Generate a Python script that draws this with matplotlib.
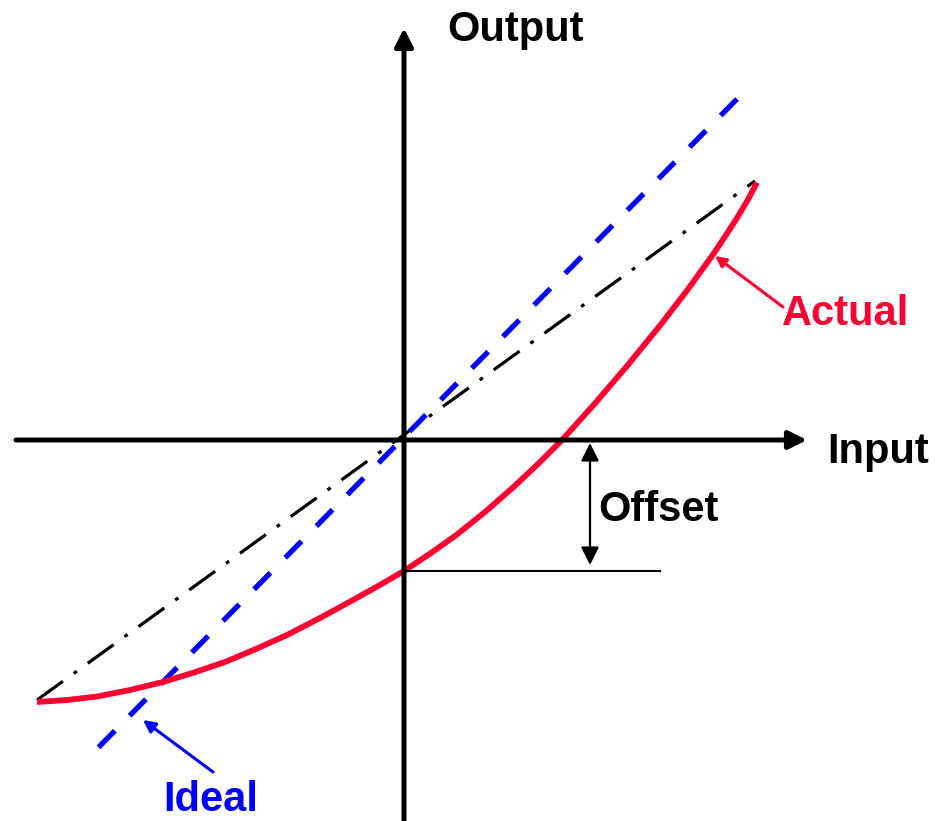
#!/usr/bin/env python3
# offset error sketch: ideal vs actual transfer curve
import numpy as np
import matplotlib
matplotlib.use('Agg')
import matplotlib.pyplot as plt

plt.rcParams['font.family'] = ['Liberation Sans', 'DejaVu Sans']

# coordinates relative to the origin (input, output)
actual_x = [-367, -337, -307, -274, -241, -210, -179, -148, -117, -84, -51, -25,
            0, 27, 53, 81, 109, 134, 158, 190, 223, 256, 283, 309, 322, 333, 344, 353]
actual_y = [-262, -260, -256.5, -250, -242, -232.5, -222, -209, -195, -178, -160, -145.5,
            -131, -113, -94.5, -72, -47.5, -24, 0, 35.5, 74, 114.5, 149.5, 185.5, 205, 222, 240.5, 257.5]

ideal_x = [333, -316]          # drawn top-right to bottom-left
ideal_y = [341, -318]

chord_x = [-367, 351]          # end-point straight line
chord_y = [-260, 259]

offset_value = -131            # where actual crosses input = 0
offset_line_x = [0, 256]
offset_arrow_x = 186

RED = '#FF0033'
BLUE = '#0000FF'


def main():
    fig = plt.figure(figsize=(9.4, 8.21), dpi=100)
    ax = fig.add_axes([0, 0, 1, 1])
    ax.set_xlim(-404, 536)
    ax.set_ylim(-381, 440)
    ax.axis('off')

    # axes with arrow heads
    ax_arrow = dict(arrowstyle='-|>', lw=3.6, color='black',
                    mutation_scale=27, shrinkA=0, shrinkB=0)
    ax.annotate('', xy=(403, 0), xytext=(-388, 0), arrowprops=ax_arrow)
    ax.annotate('', xy=(0, 412), xytext=(0, -381), arrowprops=ax_arrow)

    # end-point line (dash-dot)
    ax.plot(chord_x, chord_y, color='black', lw=2.3,
            dashes=(10.0, 4.2, 1.2, 4.2), dash_capstyle='butt')

    # ideal line
    ax.plot(ideal_x, ideal_y, color=BLUE, lw=3.8,
            dashes=(4.4, 4.0), dash_capstyle='butt')

    # actual curve
    ax.plot(actual_x, actual_y, color=RED, lw=4.2,
            solid_joinstyle='round', solid_capstyle='butt')

    # offset marker
    ax.plot(offset_line_x, [offset_value, offset_value], color='black', lw=1.5)
    ax.annotate('', xy=(offset_arrow_x, -3), xytext=(offset_arrow_x, offset_value + 6),
                arrowprops=dict(arrowstyle='<|-|>', lw=1.6, color='black',
                                mutation_scale=27, shrinkA=0, shrinkB=0))

    # labels
    tkw = dict(fontsize=30, fontweight='bold', ha='left', va='baseline')
    ax.text(43, 399, 'Output', color='black', **tkw)
    ax.text(423, -23, 'Input', color='black', **tkw)
    ax.text(194, -81, 'Offset', color='black', **tkw)
    ax.text(378, 115, 'Actual', color=RED, **tkw)
    ax.text(-241, -371, 'Ideal', color=BLUE, **tkw)

    # pointers
    ax.annotate('', xy=(311, 184), xytext=(379, 133),
                arrowprops=dict(arrowstyle='-|>', lw=2.2, color=RED,
                                mutation_scale=16, shrinkA=0, shrinkB=0))
    ax.annotate('', xy=(-261, -280), xytext=(-191, -332),
                arrowprops=dict(arrowstyle='-|>', lw=2.2, color=BLUE,
                                mutation_scale=18, shrinkA=0, shrinkB=0))

    fig.savefig('out.png', dpi=100)


if __name__ == '__main__':
    main()
